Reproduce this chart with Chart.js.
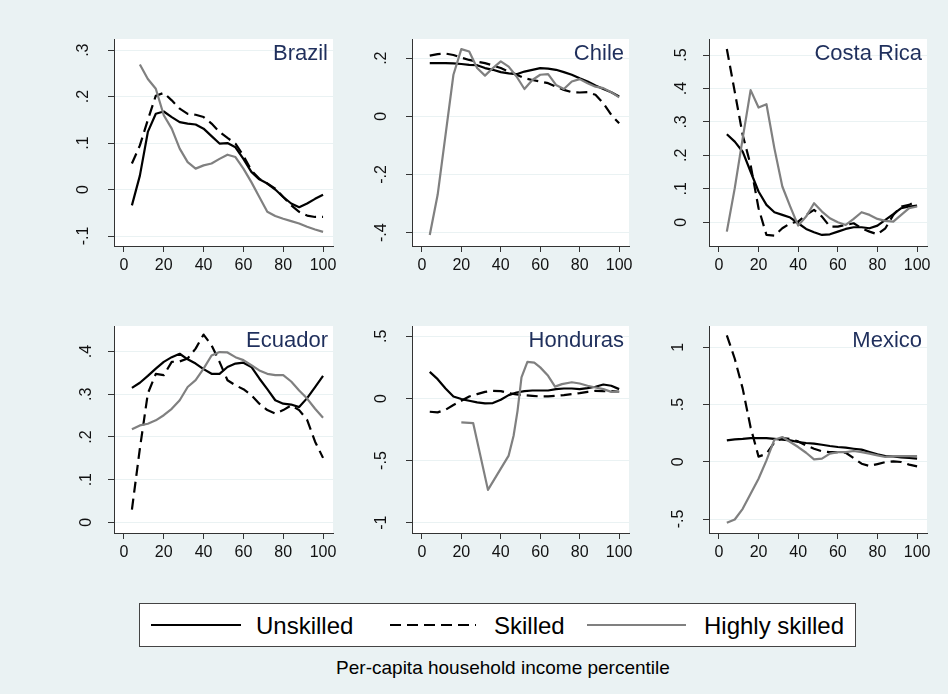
<!DOCTYPE html>
<html>
<head>
<meta charset="utf-8">
<script src="https://cdn.jsdelivr.net/npm/chart.js@4.4.1/dist/chart.umd.min.js"></script>
<style>
  body { margin: 0; background: #eaf2f3; font-family: "Liberation Sans", Arial, sans-serif; }
  #wrap { position: relative; width: 948px; height: 694px; overflow: hidden; background: #eaf2f3; }
  #wrap canvas { position: absolute; }
  .legend { position: absolute; left: 139px; top: 603px; width: 717px; height: 44px; box-sizing: border-box;
            border: 1px solid #444; background: #fff; }
  .legend svg { position: absolute; left: 0; top: 0; }
  .legend span { position: absolute; top: 1px; line-height: 42px; font-size: 24px; color: #000; white-space: nowrap; }
  .xtitle { position: absolute; left: 303px; width: 400px; top: 658px; text-align: center;
            font-size: 19px; line-height: 20px; color: #000; }
</style>
</head>
<body>
<div id="wrap">
  <div class="legend">
    <svg width="717" height="44">
      <line x1="11" y1="21" x2="101" y2="21" stroke="#000" stroke-width="2.2" />
      <line x1="250" y1="21" x2="336" y2="21" stroke="#000" stroke-width="2.2" stroke-dasharray="11 6" />
      <line x1="447" y1="21" x2="546" y2="21" stroke="#808080" stroke-width="2.2" />
    </svg>
    <span style="left:116px">Unskilled</span>
    <span style="left:354px">Skilled</span>
    <span style="left:564px">Highly skilled</span>
  </div>
  <div class="xtitle">Per-capita household income percentile</div>
</div>
<script>
// percentile grid shared by most series
const percentiles = [4, 8, 12, 16, 20, 24, 28, 32, 36, 40, 44, 48, 52, 56, 60, 64, 68, 72, 76, 80, 84, 88, 92, 96, 100];
const xTicks = [0, 20, 40, 60, 80, 100];

const brazilUnskilled = [-0.034, 0.03, 0.124, 0.163, 0.168, 0.156, 0.145, 0.142, 0.14, 0.131, 0.115, 0.099, 0.1, 0.091, 0.066, 0.038, 0.022, 0.013, 0, -0.016, -0.03, -0.038, -0.03, -0.02, -0.011];
const brazilSkilled = [0.056, 0.095, 0.15, 0.202, 0.208, 0.192, 0.174, 0.163, 0.161, 0.156, 0.142, 0.124, 0.111, 0.099, 0.073, 0.041, 0.023, 0.013, 0.002, -0.016, -0.034, -0.048, -0.056, -0.059, -0.059];
const brazilHigh = [null, 0.269, 0.238, 0.217, 0.16, 0.131, 0.088, 0.059, 0.045, 0.052, 0.056, 0.066, 0.075, 0.07, 0.045, 0.016, -0.016, -0.048, -0.057, -0.063, -0.068, -0.073, -0.08, -0.086, -0.091];

const chileUnskilled = [0.183, 0.183, 0.183, 0.182, 0.18, 0.177, 0.176, 0.166, 0.16, 0.152, 0.148, 0.145, 0.154, 0.16, 0.166, 0.164, 0.16, 0.152, 0.143, 0.131, 0.12, 0.106, 0.094, 0.083, 0.068];
const chileSkilled = [0.209, 0.214, 0.216, 0.211, 0.202, 0.194, 0.188, 0.183, 0.175, 0.166, 0.154, 0.143, 0.131, 0.125, 0.12, 0.114, 0.102, 0.091, 0.083, 0.082, 0.083, 0.074, 0.045, 0.005, -0.024];
const chileHigh = [-0.408, -0.27, -0.064, 0.143, 0.231, 0.223, 0.166, 0.14, 0.166, 0.189, 0.171, 0.137, 0.094, 0.125, 0.143, 0.145, 0.108, 0.094, 0.12, 0.128, 0.114, 0.102, 0.097, 0.083, 0.065];

const costaUnskilled = [0.263, 0.241, 0.211, 0.151, 0.092, 0.052, 0.03, 0.022, 0.014, -0.003, -0.02, -0.03, -0.038, -0.036, -0.028, -0.02, -0.015, -0.015, -0.018, -0.01, 0.007, 0.024, 0.042, 0.047, 0.05];
const costaSkilled = [0.518, 0.39, 0.261, 0.171, 0.042, -0.038, -0.04, -0.018, -0.003, 0.002, 0.022, 0.037, 0.017, -0.013, -0.013, -0.008, -0.003, -0.018, -0.028, -0.036, -0.018, 0.022, 0.047, 0.052, 0.064];
const costaHigh = [-0.028, 0.102, 0.251, 0.395, 0.343, 0.353, 0.221, 0.107, 0.047, -0.01, 0.017, 0.057, 0.032, 0.012, 0, -0.008, 0.01, 0.03, 0.022, 0.01, 0.004, 0.002, 0.022, 0.042, 0.047];

const ecuadorUnskilled = [0.315, 0.327, 0.343, 0.36, 0.376, 0.387, 0.395, 0.382, 0.372, 0.359, 0.348, 0.348, 0.364, 0.372, 0.374, 0.364, 0.337, 0.312, 0.286, 0.278, 0.276, 0.27, 0.291, 0.317, 0.343];
const ecuadorSkilled = [0.03, 0.173, 0.302, 0.348, 0.345, 0.376, 0.377, 0.384, 0.407, 0.44, 0.415, 0.376, 0.333, 0.321, 0.312, 0.298, 0.278, 0.263, 0.255, 0.263, 0.274, 0.263, 0.24, 0.189, 0.151];
const ecuadorHigh = [0.218, 0.227, 0.231, 0.239, 0.251, 0.266, 0.286, 0.317, 0.333, 0.36, 0.391, 0.399, 0.398, 0.387, 0.38, 0.368, 0.356, 0.348, 0.345, 0.345, 0.33, 0.309, 0.29, 0.266, 0.245];

const hondurasUnskilled = [0.214, 0.155, 0.08, 0.016, -0.005, -0.019, -0.032, -0.04, -0.037, -0.011, 0.027, 0.048, 0.059, 0.064, 0.064, 0.064, 0.075, 0.08, 0.08, 0.075, 0.083, 0.094, 0.112, 0.102, 0.075];
const hondurasSkilled = [-0.107, -0.112, -0.091, -0.053, -0.019, 0.016, 0.035, 0.053, 0.061, 0.059, 0.043, 0.032, 0.027, 0.021, 0.016, 0.016, 0.021, 0.027, 0.035, 0.043, 0.053, 0.061, 0.059, 0.059, 0.053];
// highly skilled in Honduras only observed from the 20th percentile, uneven spacing
const hondurasHighX = [20, 26, 33.5, 44, 46.5, 48.5, 50.5, 53.5, 57, 60, 64, 67.5, 71, 76, 80, 84, 88, 92, 96, 100];
const hondurasHigh = [-0.193, -0.198, -0.736, -0.46, -0.3, -0.1, 0.17, 0.294, 0.288, 0.25, 0.182, 0.095, 0.115, 0.13, 0.12, 0.102, 0.088, 0.075, 0.053, 0.053];

const mexicoUnskilled = [0.187, 0.196, 0.2, 0.207, 0.207, 0.207, 0.2, 0.193, 0.187, 0.173, 0.164, 0.158, 0.149, 0.138, 0.129, 0.123, 0.114, 0.106, 0.085, 0.065, 0.05, 0.047, 0.039, 0.033, 0.027];
const mexicoSkilled = [1.105, 0.9, 0.639, 0.3, 0.045, 0.07, 0.17, 0.207, 0.2, 0.178, 0.143, 0.114, 0.091, 0.085, 0.085, 0.079, 0.033, -0.017, -0.037, -0.02, -0.002, 0.004, -0.002, -0.025, -0.04];
const mexicoHigh = [-0.533, -0.504, -0.411, -0.28, -0.148, 0.012, 0.193, 0.216, 0.173, 0.129, 0.079, 0.021, 0.027, 0.071, 0.085, 0.085, 0.094, 0.085, 0.071, 0.056, 0.042, 0.05, 0.05, 0.05, 0.05];

const brazilTicks = [-0.1, 0, 0.1, 0.2, 0.3];
const chileTicks = [-0.4, -0.2, 0, 0.2];
const costaTicks = [0, 0.1, 0.2, 0.3, 0.4, 0.5];
const ecuadorTicks = [0, 0.1, 0.2, 0.3, 0.4];
const hondurasTicks = [-1, -0.5, 0, 0.5];
const mexicoTicks = [-0.5, 0, 0.5, 1];

const FONT = "'Liberation Sans', Arial, Helvetica, sans-serif";
Chart.defaults.font.family = FONT;

// plot area boxes (page pixels) and y ranges
const panels = [
  { name: "Brazil", l: 114, t: 39, r: 333, b: 246, ymin: -0.1215, ymax: 0.324, ticks: brazilTicks, u: brazilUnskilled, s: brazilSkilled, h: brazilHigh },
  { name: "Chile", l: 412, t: 39, r: 629, b: 246, ymin: -0.446, ymax: 0.266, ticks: chileTicks, u: chileUnskilled, s: chileSkilled, h: chileHigh },
  { name: "Costa Rica", l: 709, t: 39, r: 927, b: 246, ymin: -0.071, ymax: 0.548, ticks: costaTicks, u: costaUnskilled, s: costaSkilled, h: costaHigh },
  { name: "Ecuador", l: 114, t: 326, r: 333, b: 533, ymin: -0.025, ymax: 0.46, ticks: ecuadorTicks, u: ecuadorUnskilled, s: ecuadorSkilled, h: ecuadorHigh },
  { name: "Honduras", l: 412, t: 326, r: 629, b: 533, ymin: -1.083, ymax: 0.583, ticks: hondurasTicks, u: hondurasUnskilled, s: hondurasSkilled, h: hondurasHigh, hx: hondurasHighX },
  { name: "Mexico", l: 709, t: 326, r: 927, b: 533, ymin: -0.622, ymax: 1.186, ticks: mexicoTicks, u: mexicoUnskilled, s: mexicoSkilled, h: mexicoHigh }
];

// Stata style labels: .3, -.1, 0
function stataLabel(v) {
  const s = String(Number(v.toFixed(2)));
  return s.replace(/^(-?)0\./, "$1.");
}

function toPoints(xs, ys) {
  return xs.map((x, i) => ({ x: x, y: ys[i] }));
}

const panelDecor = {
  id: "panelDecor",
  beforeDraw(chart) {
    const a = chart.chartArea;
    const ctx = chart.ctx;
    ctx.save();
    ctx.fillStyle = "#fff";
    ctx.fillRect(a.left, a.top, a.right - a.left, a.bottom - a.top);
    ctx.restore();
  },
  afterDraw(chart) {
    const a = chart.chartArea;
    const ctx = chart.ctx;
    ctx.save();
    ctx.font = "22px " + FONT;
    ctx.fillStyle = "#1f2f5c";
    ctx.textAlign = "right";
    ctx.textBaseline = "alphabetic";
    ctx.fillText(chart.options.panelName, a.right - 5, a.top + 21);
    ctx.restore();
  }
};

const wrap = document.getElementById("wrap");
const padL = 58, padT = 14, padR = 14, padB = 36;

panels.forEach(function (p) {
  const cv = document.createElement("canvas");
  cv.width = p.r - p.l + padL + padR;
  cv.height = p.b - p.t + padT + padB;
  cv.style.left = (p.l - padL) + "px";
  cv.style.top = (p.t - padT) + "px";
  wrap.appendChild(cv);

  const line = { pointRadius: 0, borderWidth: 2.2, tension: 0, fill: false, borderJoinStyle: "round" };

  new Chart(cv, {
    type: "line",
    data: {
      datasets: [
        Object.assign({ label: "Unskilled", data: toPoints(percentiles, p.u), borderColor: "#000", order: 2 }, line),
        Object.assign({ label: "Skilled", data: toPoints(percentiles, p.s), borderColor: "#000", borderDash: [11, 6], order: 1 }, line),
        Object.assign({ label: "Highly skilled", data: toPoints(p.hx || percentiles, p.h), borderColor: "#808080", order: 0 }, line)
      ]
    },
    options: {
      panelName: p.name,
      responsive: false,
      animation: false,
      events: [],
      layout: { padding: { top: padT, right: padR, left: 0, bottom: 0 } },
      plugins: { legend: { display: false }, tooltip: { enabled: false } },
      scales: {
        x: {
          type: "linear",
          min: -5,
          max: 105,
          afterBuildTicks: (axis) => { axis.ticks = xTicks.map((v) => ({ value: v })); },
          afterFit: (axis) => { axis.height = padB; axis.paddingLeft = 0; axis.paddingRight = 0; },
          grid: { drawOnChartArea: false, tickLength: 6, tickColor: "#333" },
          border: { color: "#333", width: 1 },
          ticks: { font: { size: 16 }, color: "#111", padding: 4, minRotation: 0, maxRotation: 0 }
        },
        y: {
          type: "linear",
          min: p.ymin,
          max: p.ymax,
          afterBuildTicks: (axis) => { axis.ticks = p.ticks.map((v) => ({ value: v })); },
          afterFit: (axis) => { axis.width = padL; axis.paddingTop = 0; axis.paddingBottom = 0; },
          grid: { color: "#eaf2f3", lineWidth: 1, tickLength: 6, tickColor: "#333" },
          border: { color: "#333", width: 1 },
          ticks: {
            font: { size: 16 },
            color: "#111",
            padding: 15,
            minRotation: 90,
            maxRotation: 90,
            crossAlign: "center",
            callback: (v) => stataLabel(v)
          }
        }
      }
    },
    plugins: [panelDecor]
  });
});
</script>
</body>
</html>
